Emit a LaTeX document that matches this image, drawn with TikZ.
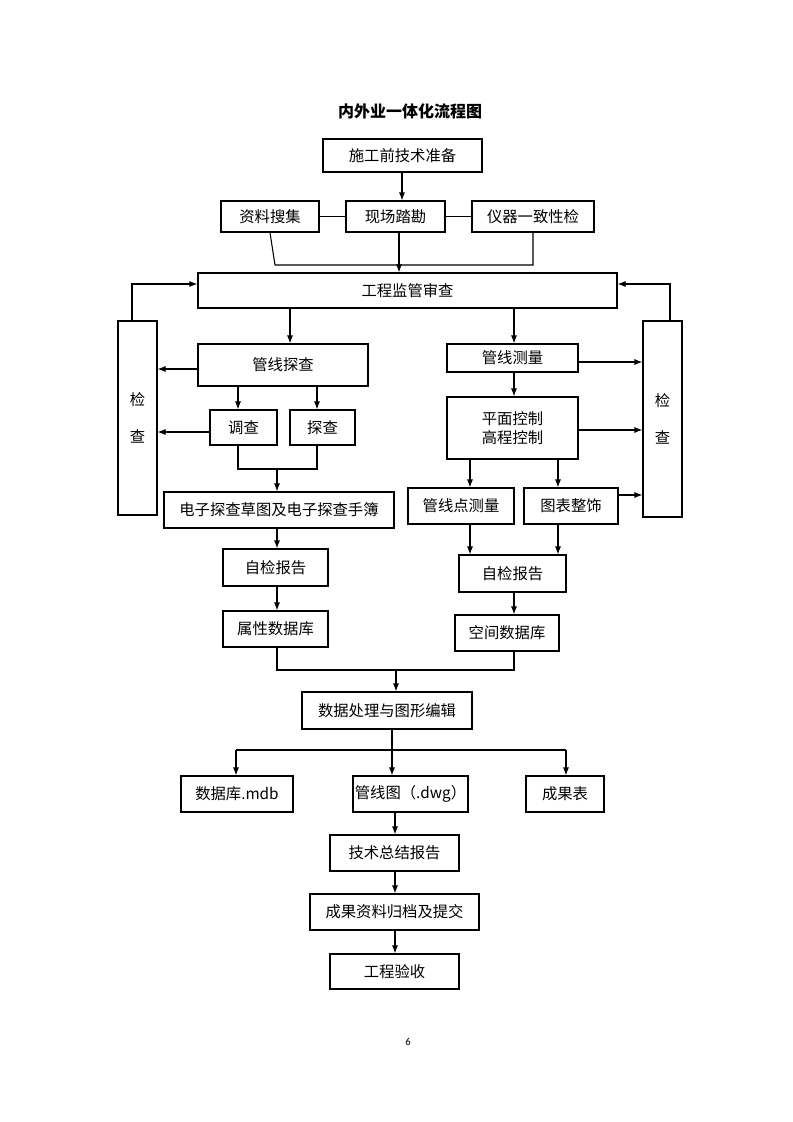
\documentclass[tikz,border=0pt]{standalone}
\usepackage{fontspec}
\setmainfont{Carlito}
\newfontfamily\cjk{Noto Sans CJK SC}
\usetikzlibrary{arrows.meta}
\newcommand{\bx}[6]{\node[box,minimum width={(#4-#2)*0.75pt},minimum height={(#5-#3)*0.75pt}] (#1) at ({(#2+#4)/2},{(#3+#5)/2}) {#6};}
\begin{document}
\begin{tikzpicture}[x=0.75pt,y=-0.75pt,
 box/.style={draw,line width=0.8pt,inner sep=0pt,font=\cjk\fontsize{11.5pt}{14pt}\selectfont,align=center},
 ln/.style={line width=0.8pt},
 ar/.style={line width=0.8pt,-{Latex[length=6pt,width=4.5pt]}}]
\useasboundingbox (0,0) rectangle (793,1122);
\node[font=\cjk\bfseries\fontsize{12pt}{14pt}\selectfont] (title) at (410,111) {内外业一体化流程图};
\bx{sg}{323}{139}{482}{172}{施工前技术准备}
\bx{zl}{221}{201}{319}{232}{资料搜集}
\bx{xc}{346}{201}{445}{232}{现场踏勘}
\bx{yq}{472}{201}{594}{232}{仪器一致性检}
\bx{gc}{198}{273}{617}{308}{工程监管审查}
\bx{jl}{118}{321}{157}{515}{检\\[14pt]查}
\bx{jr}{643}{321}{682}{517}{检\\[14pt]查}
\bx{tc}{198}{344}{368}{386}{管线探查}
\bx{dc}{210}{410}{277}{445}{调查}
\bx{ts}{290}{410}{355}{445}{探查}
\bx{dz}{164}{492}{394}{528}{电子探查草图及电子探查手簿}
\bx{zj1}{223}{549}{328}{586}{自检报告}
\bx{sx}{223}{611}{328}{647}{属性数据库}
\bx{cl}{447}{344}{578}{372}{管线测量}
\bx{pm}{447}{397}{578}{459}{平面控制\\高程控制}
\bx{gd}{408}{488}{514}{524}{管线点测量}
\bx{tb}{524}{488}{618}{524}{图表整饰}
\bx{zj2}{459}{555}{566}{592}{自检报告}
\bx{kj}{455}{615}{559}{651}{空间数据库}
\bx{sj}{302}{692}{472}{729}{数据处理与图形编辑}
\bx{mdb}{181}{776}{293}{812}{数据库.mdb}
\bx{dwg}{353}{776}{468}{812}{管线图（.dwg）}
\bx{cg}{526}{776}{604}{812}{成果表}
\bx{zs}{330}{835}{459}{871}{技术总结报告}
\bx{gd2}{310}{894}{479}{930}{成果资料归档及提交}
\bx{ys}{330}{954}{459}{989}{工程验收}
\node[font=\fontsize{8pt}{10pt}\selectfont] (pg) at (408,1042) {6};
% top
\draw[ar] (sg.south -| 402,0) -- (xc.north -| 402,0);
\draw[ln] (zl.east) -- (xc.west);
\draw[ln] (xc.east) -- (yq.west);
\draw[ln] (zl.south) -- (275,265) -- (533,265) -- (yq.south -| 533,0);
\draw[ar] (xc.south -| 399,0) -- (gc.north -| 399,0);
% side checks
\draw[ar] (jl.north -| 132,0) -- (132,284) -- (gc.west |- 0,284);
\draw[ar] (jr.north -| 670,0) -- (670,284) -- (gc.east |- 0,284);
% left branch
\draw[ar] (gc.south -| 290,0) -- (tc.north -| 290,0);
\draw[ar] (tc.west |- 0,369) -- (jl.east |- 0,369);
\draw[ar] (tc.south -| 238,0) -- (dc.north -| 238,0);
\draw[ar] (tc.south -| 317,0) -- (ts.north -| 317,0);
\draw[ar] (dc.west |- 0,432) -- (jl.east |- 0,432);
\draw[ln] (dc.south -| 238,0) -- (238,469) -- (317,469) -- (ts.south -| 317,0);
\draw[ar] (277,469) -- (dz.north -| 277,0);
\draw[ar] (dz.south -| 277,0) -- (zj1.north -| 277,0);
\draw[ar] (zj1.south -| 277,0) -- (sx.north -| 277,0);
% right branch
\draw[ar] (gc.south -| 514,0) -- (cl.north -| 514,0);
\draw[ar] (cl.east |- 0,362) -- (jr.west |- 0,362);
\draw[ar] (cl.south -| 514,0) -- (pm.north -| 514,0);
\draw[ar] (pm.east |- 0,430) -- (jr.west |- 0,430);
\draw[ar] (pm.south -| 470,0) -- (gd.north -| 470,0);
\draw[ar] (pm.south -| 558,0) -- (tb.north -| 558,0);
\draw[ar] (tb.east |- 0,495) -- (jr.west |- 0,495);
\draw[ar] (gd.south -| 470,0) -- (zj2.north -| 470,0);
\draw[ar] (tb.south -| 558,0) -- (zj2.north -| 558,0);
\draw[ar] (zj2.south -| 514,0) -- (kj.north -| 514,0);
% merge
\draw[ln] (sx.south -| 277,0) -- (277,670) -- (514,670) -- (kj.south -| 514,0);
\draw[ar] (396,670) -- (sj.north -| 396,0);
\draw[ln] (sj.south -| 392,0) -- (392,750);
\draw[ln] (236,750) -- (566,750);
\draw[ar] (236,750) -- (mdb.north -| 236,0);
\draw[ar] (392,750) -- (dwg.north -| 392,0);
\draw[ar] (566,750) -- (cg.north -| 566,0);
\draw[ar] (dwg.south -| 395,0) -- (zs.north -| 395,0);
\draw[ar] (zs.south -| 395,0) -- (gd2.north -| 395,0);
\draw[ar] (gd2.south -| 395,0) -- (ys.north -| 395,0);
\end{tikzpicture}
\end{document}
